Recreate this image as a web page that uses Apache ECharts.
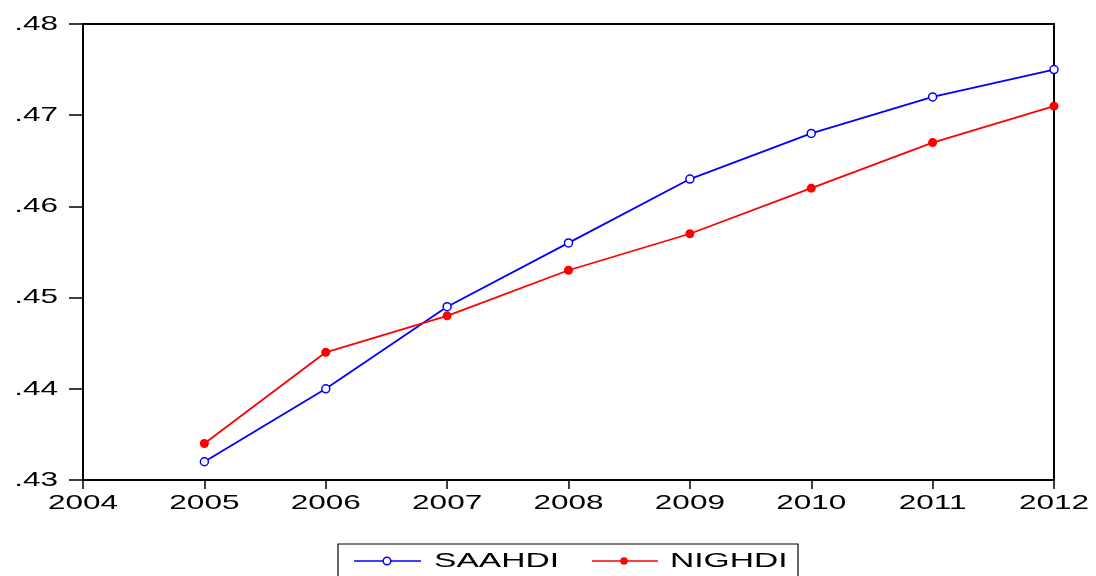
<!DOCTYPE html>
<html>
<head>
<meta charset="utf-8">
<script src="https://cdn.jsdelivr.net/npm/echarts@6/dist/echarts.min.js"></script>
<style>
  html, body { margin: 0; padding: 0; background: #fff; }
  #chart { width: 1096px; height: 576px; }
</style>
</head>
<body>
<div id="chart"></div>
<script>
// Human development index by year, two regions
const years = [2005, 2006, 2007, 2008, 2009, 2010, 2011, 2012];
const saahdi = [0.432, 0.440, 0.449, 0.456, 0.463, 0.468, 0.472, 0.475];
const nighdi = [0.434, 0.444, 0.448, 0.453, 0.457, 0.462, 0.467, 0.471];
const seriesNames = ['SAAHDI', 'NIGHDI'];
const seriesColors = ['#0000ff', '#ff0000'];

// Tick positions and their printed labels
const xTicks = [2004, 2005, 2006, 2007, 2008, 2009, 2010, 2011, 2012];
const yTicks = [0.43, 0.44, 0.45, 0.46, 0.47, 0.48];
const yTickLabels = ['.43', '.44', '.45', '.46', '.47', '.48'];

const pair = (xs, ys) => xs.map((x, i) => [x, ys[i]]);
const FONT = '21px "Liberation Sans", Arial, sans-serif';
const STRETCH = 1.5;   // wide lettering used for all text

const chart = echarts.init(document.getElementById('chart'));
chart.setOption({
  animation: false,
  backgroundColor: '#fff',
  grid: {
    left: 83, right: 42, top: 24, bottom: 96,
    show: true, borderColor: '#000', borderWidth: 2
  },
  xAxis: {
    type: 'value', min: xTicks[0], max: xTicks[xTicks.length - 1], interval: 1,
    axisLine: { lineStyle: { color: '#000', width: 2 } },
    axisTick: { show: true, inside: false, length: 9, lineStyle: { color: '#000', width: 1.5 } },
    splitLine: { show: false },
    axisLabel: { show: false }
  },
  yAxis: {
    type: 'value', min: yTicks[0], max: yTicks[yTicks.length - 1], interval: 0.01,
    axisLine: { show: true, lineStyle: { color: '#000', width: 2 } },
    axisTick: { show: true, inside: false, length: 14, lineStyle: { color: '#000', width: 1.5 } },
    splitLine: { show: false },
    axisLabel: { show: false }
  },
  series: [
    {
      name: seriesNames[0], type: 'line',
      data: pair(years, saahdi),
      lineStyle: { color: seriesColors[0], width: 1.8 },
      symbol: 'circle', symbolSize: 8,
      itemStyle: { color: '#fff', borderColor: seriesColors[0], borderWidth: 1.5 }
    },
    {
      name: seriesNames[1], type: 'line',
      data: pair(years, nighdi),
      lineStyle: { color: seriesColors[1], width: 1.8 },
      symbol: 'circle', symbolSize: 9,
      itemStyle: { color: seriesColors[1] }
    }
  ]
});

// Tick labels, placed through the axes' own scales
function label(text, x, y, align, vAlign, stretch) {
  return {
    type: 'text', x: x, y: y, scaleX: stretch, silent: true,
    style: {
      text: text, font: FONT, fill: '#000',
      align: align, textAlign: align,
      verticalAlign: vAlign, textVerticalAlign: vAlign
    }
  };
}

const elements = [];
xTicks.forEach(t => {
  const p = chart.convertToPixel({ gridIndex: 0 }, [t, yTicks[0]]);
  elements.push(label(String(t), p[0], p[1] + 23, 'center', 'middle', STRETCH));
});
yTicks.forEach((t, i) => {
  const p = chart.convertToPixel({ gridIndex: 0 }, [xTicks[0], t]);
  elements.push(label(yTickLabels[i], p[0] - 25, p[1], 'right', 'middle', STRETCH));
});

// Legend box below the plot
const legendTop = 544, legendLeft = 338, legendRight = 798, rowY = 561;
elements.push({
  type: 'rect', silent: true,
  shape: { x: legendLeft, y: legendTop, width: legendRight - legendLeft, height: 60 },
  style: { fill: 'none', stroke: '#000', lineWidth: 1.2 }
});
const legendItems = [
  { x0: 354, x1: 421, mark: 387, textX: 434, hollow: true },
  { x0: 592, x1: 658, mark: 624, textX: 670, hollow: false }
];
legendItems.forEach((it, i) => {
  elements.push({
    type: 'line', silent: true,
    shape: { x1: it.x0, y1: rowY, x2: it.x1, y2: rowY },
    style: { stroke: seriesColors[i], lineWidth: 1.5 }
  });
  elements.push({
    type: 'circle', silent: true,
    shape: { cx: it.mark, cy: rowY, r: 3.8 },
    style: it.hollow
      ? { fill: '#fff', stroke: seriesColors[i], lineWidth: 1.5 }
      : { fill: seriesColors[i] }
  });
  elements.push(label(seriesNames[i], it.textX, rowY, 'left', 'middle', 1.6));
});

chart.setOption({ graphic: { elements: elements } });
</script>
</body>
</html>
